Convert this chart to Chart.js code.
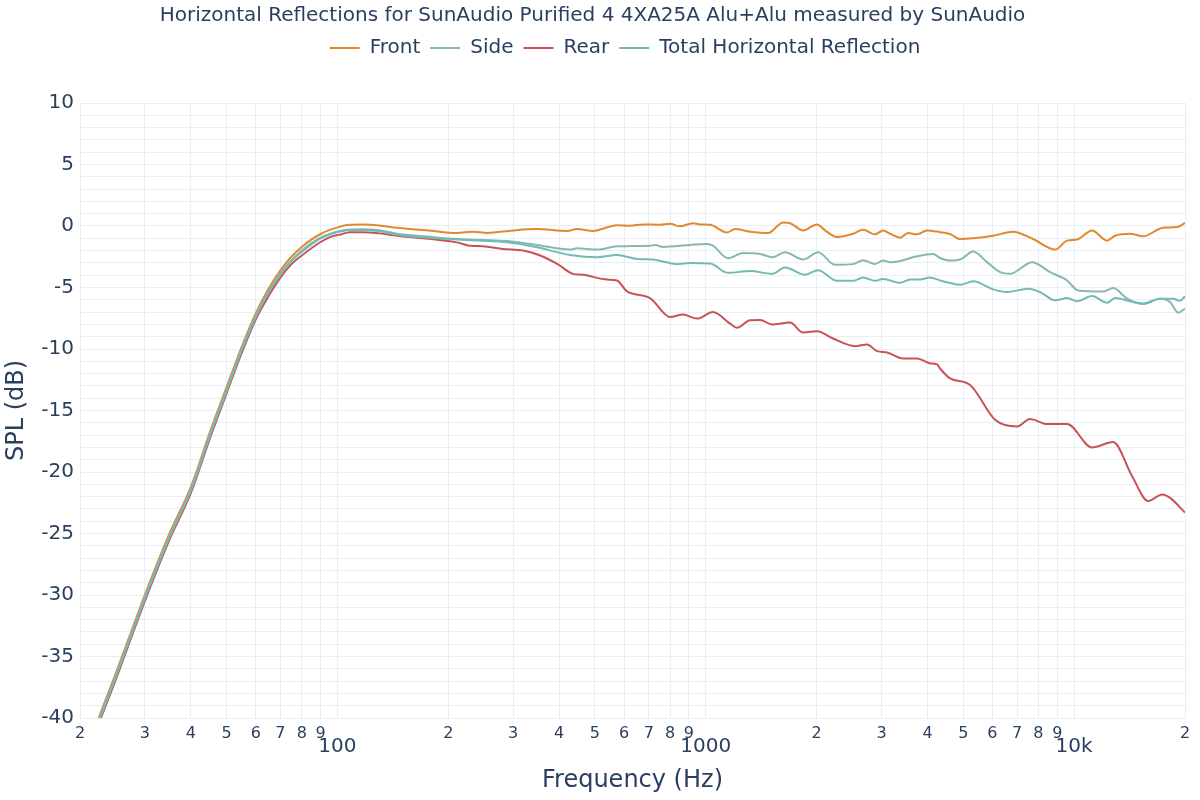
<!DOCTYPE html>
<html>
<head>
<meta charset="utf-8">
<script src="https://cdn.jsdelivr.net/npm/chart.js@4.4.1/dist/chart.umd.min.js"></script>
<style>
  html, body { margin: 0; padding: 0; background: #fff; }
  #spin { display: block; }
</style>
</head>
<body>
<canvas id="spin" width="1200" height="800"></canvas>
<script>
// Horizontal reflections, values

const frontHz = [20, 22, 25, 30, 35, 40, 45, 50, 55, 60, 65, 70, 75, 80, 90, 101.6, 108, 117, 130, 145, 175, 211, 233, 255, 300, 348, 420, 447, 494, 574, 623, 676, 751, 800, 851, 923, 965, 1027, 1142, 1201, 1319, 1476, 1621, 1694, 1837, 2005, 2108, 2272, 2512, 2673, 2882, 3029, 3165, 3370, 3542, 3746, 3988, 4325, 4605, 4902, 5318, 6024, 6829, 7736, 8880, 9571, 10188, 11187, 12287, 12918, 14190, 15392, 17440, 19034, 20000];
const frontDb = [-44.8, -40.8, -36.4, -30.0, -25.0, -21.2, -16.8, -13.1, -9.8, -7.1, -5.1, -3.6, -2.5, -1.7, -0.65, -0.05, 0.1, 0.12, 0.05, -0.15, -0.35, -0.57, -0.46, -0.57, -0.36, -0.25, -0.4, -0.25, -0.4, 0.07, 0.02, 0.13, 0.1, 0.18, -0.03, 0.23, 0.13, 0.1, -0.52, -0.25, -0.46, -0.57, 0.29, 0.23, -0.36, 0.13, -0.36, -0.9, -0.63, -0.3, -0.68, -0.36, -0.63, -0.95, -0.57, -0.68, -0.36, -0.5, -0.65, -1.06, -1.0, -0.79, -0.46, -1.06, -1.92, -1.19, -1.1, -0.36, -1.19, -0.79, -0.63, -0.84, -0.14, -0.09, 0.25];

const sideHz = [20, 22, 25, 30, 35, 40, 45, 50, 55, 60, 65, 70, 75, 80, 90, 101.6, 108, 117, 130, 145, 175, 211, 300, 348, 428, 447, 507, 574, 706, 728, 766, 906, 1008, 1046, 1149, 1262, 1404, 1514, 1641, 1837, 2018, 2244, 2512, 2673, 2882, 3029, 3165, 3370, 3746, 4140, 4325, 4605, 4902, 5318, 5802, 6294, 6700, 7688, 8604, 9571, 10252, 11984, 12757, 13927, 15392, 17115, 18220, 19154, 20000];
const sideDb = [-45.0, -41.0, -36.6, -30.2, -25.2, -21.4, -17.0, -13.3, -10.0, -7.3, -5.3, -3.85, -2.8, -2.0, -0.95, -0.4, -0.28, -0.27, -0.35, -0.62, -0.85, -1.06, -1.27, -1.54, -1.92, -1.81, -1.92, -1.65, -1.6, -1.55, -1.7, -1.54, -1.46, -1.6, -2.62, -2.19, -2.27, -2.54, -2.14, -2.73, -2.14, -3.16, -3.1, -2.78, -3.08, -2.81, -2.94, -2.84, -2.46, -2.27, -2.6, -2.81, -2.73, -2.08, -2.94, -3.75, -3.89, -2.94, -3.75, -4.43, -5.24, -5.32, -5.05, -5.91, -6.32, -5.91, -6.18, -7.05, -6.72];

const rearHz = [20, 22, 25, 30, 35, 40, 45, 50, 55, 60, 65, 70, 75, 80, 90, 95.5, 101.6, 108, 117, 130, 145, 211, 229, 248, 282, 319, 355, 395, 436, 464, 539, 574, 611, 706, 800, 867, 947, 1046, 1164, 1216, 1319, 1404, 1514, 1694, 1837, 2005, 2216, 2543, 2740, 2917, 3106, 3434, 3746, 4064, 4245, 4325, 4605, 5218, 6100, 7000, 7593, 8444, 9571, 11187, 12757, 14370, 15879, 17332, 18220, 20000];
const rearDb = [-45.3, -41.3, -36.9, -30.5, -25.5, -21.7, -17.3, -13.6, -10.3, -7.6, -5.7, -4.2, -3.1, -2.4, -1.3, -0.9, -0.7, -0.5, -0.5, -0.6, -0.79, -1.33, -1.6, -1.65, -1.87, -2.0, -2.4, -3.08, -3.89, -3.97, -4.35, -4.43, -5.32, -5.86, -7.4, -7.2, -7.53, -6.99, -7.94, -8.28, -7.66, -7.64, -8.01, -7.85, -8.66, -8.55, -9.15, -9.77, -9.63, -10.17, -10.28, -10.77, -10.77, -11.17, -11.25, -11.58, -12.39, -12.92, -15.75, -16.3, -15.7, -16.1, -16.1, -18.0, -17.56, -20.34, -22.36, -21.82, -22.1, -23.3];

const totalHz = [20, 22, 25, 30, 35, 40, 45, 50, 55, 60, 65, 70, 75, 80, 90, 101.6, 108, 117, 130, 145, 211, 300, 348, 428, 507, 574, 651, 719, 766, 836, 906, 1027, 1149, 1319, 1514, 1641, 1860, 2018, 2272, 2512, 2673, 2882, 3029, 3370, 3586, 3817, 4064, 4325, 4605, 4902, 5318, 6024, 6576, 7498, 8083, 8880, 9571, 10188, 11187, 12287, 12918, 14190, 15392, 17115, 18566, 19396, 20000];
const totalDb = [-45.1, -41.1, -36.7, -30.3, -25.3, -21.5, -17.1, -13.4, -10.1, -7.4, -5.4, -3.95, -2.85, -2.1, -1.0, -0.45, -0.33, -0.32, -0.42, -0.72, -1.1, -1.38, -1.73, -2.35, -2.54, -2.35, -2.68, -2.73, -2.89, -3.1, -3.0, -3.05, -3.81, -3.65, -3.89, -3.38, -3.97, -3.59, -4.46, -4.46, -4.18, -4.46, -4.3, -4.62, -4.35, -4.35, -4.18, -4.43, -4.64, -4.78, -4.5, -5.15, -5.37, -5.1, -5.37, -6.04, -5.86, -6.12, -5.7, -6.24, -5.86, -6.12, -6.32, -5.91, -5.91, -6.08, -5.72];

const xTickValues = [20, 30, 40, 50, 60, 70, 80, 90, 100, 200, 300, 400, 500, 600, 700, 800, 900, 1000, 2000, 3000, 4000, 5000, 6000, 7000, 8000, 9000, 10000, 20000];
const xTickLabels = ['2', '3', '4', '5', '6', '7', '8', '9', '100', '2', '3', '4', '5', '6', '7', '8', '9', '1000', '2', '3', '4', '5', '6', '7', '8', '9', '10k', '2'];
const majorLabels = ['100', '1000', '10k'];

const ink = '#2a3f5f';
const gridCol = '#e9eef5';
const fontFam = '"DejaVu Sans", Verdana, sans-serif';

function pts(hz, db) {
  return hz.map((f, i) => ({ x: f, y: db[i] }));
}

function series(label, hz, db, color, order) {
  return {
    label: label,
    data: pts(hz, db),
    borderColor: color,
    backgroundColor: color,
    borderWidth: 2,
    pointRadius: 0,
    cubicInterpolationMode: 'monotone',
    order: order
  };
}

// stretch the legend box so the plot starts lower, and centre it over the plot area
const legendGap = {
  id: 'legendGap',
  beforeInit(chart) {
    const fit = chart.legend.fit;
    chart.legend.fit = function () {
      fit.bind(chart.legend)();
      this.height += 35;
    };
  },
  afterLayout(chart) {
    const shift = (chart.chartArea.left + chart.chartArea.right) / 2 - chart.width / 2;
    chart.legend.left += shift;
    chart.legend.right += shift;
  }
};

new Chart(document.getElementById('spin'), {
  type: 'line',
  data: {
    datasets: [
      series('Front', frontHz, frontDb, '#e0892f', 4),
      series('Side', sideHz, sideDb, '#88b7b2', 3),
      series('Rear', rearHz, rearDb, '#c85357', 2),
      series('Total Horizontal Reflection', totalHz, totalDb, '#72bbb3', 1)
    ]
  },
  options: {
    responsive: false,
    animation: false,
    layout: { padding: { left: 0, right: 15, top: 0, bottom: 0 } },
    plugins: {
      title: {
        display: true,
        text: 'Horizontal Reflections for SunAudio Purified 4 4XA25A Alu+Alu measured by SunAudio',
        color: ink,
        font: { family: fontFam, size: 20, weight: 'normal' },
        padding: { top: 4, bottom: 0 }
      },
      legend: {
        labels: {
          color: ink,
          font: { family: fontFam, size: 20 },
          usePointStyle: true,
          pointStyle: 'line',
          pointStyleWidth: 30,
          boxHeight: 2,
          padding: 10,
          sort: (a, b) => a.datasetIndex - b.datasetIndex
        }
      },
      tooltip: { enabled: false }
    },
    scales: {
      x: {
        type: 'logarithmic',
        min: 20,
        max: 20000,
        afterBuildTicks: (scale) => {
          scale.ticks = xTickValues.map(v => ({ value: v }));
        },
        afterFit: (scale) => { scale.height = 82; },
        grid: { color: gridCol, drawTicks: false },
        border: { display: false },
        ticks: {
          autoSkip: false,
          maxRotation: 0,
          padding: 6,
          color: ink,
          callback: (v, i) => {
            const lab = xTickLabels[i];
            return majorLabels.includes(lab) ? ['', lab] : lab;
          },
          font: (ctx) => {
            const lab = xTickLabels[ctx.index];
            return majorLabels.includes(lab)
              ? { family: fontFam, size: 20, lineHeight: 0.75 }
              : { family: fontFam, size: 16, lineHeight: 1.2 };
          }
        },
        title: {
          display: true,
          text: 'Frequency (Hz)',
          color: ink,
          font: { family: fontFam, size: 24 },
          padding: { top: 0, bottom: 5 }
        }
      },
      y: {
        min: -40,
        max: 10,
        afterFit: (scale) => { scale.width = 80; },
        grid: { color: gridCol, drawTicks: false },
        border: { display: false },
        ticks: {
          stepSize: 1,
          autoSkip: false,
          padding: 6,
          color: ink,
          font: { family: fontFam, size: 20 },
          callback: (v) => (v % 5 === 0 ? String(v) : '')
        },
        title: {
          display: true,
          text: 'SPL (dB)',
          color: ink,
          font: { family: fontFam, size: 24 },
          padding: { top: 2, bottom: 0 }
        }
      }
    }
  },
  plugins: [legendGap]
});
</script>
</body>
</html>
